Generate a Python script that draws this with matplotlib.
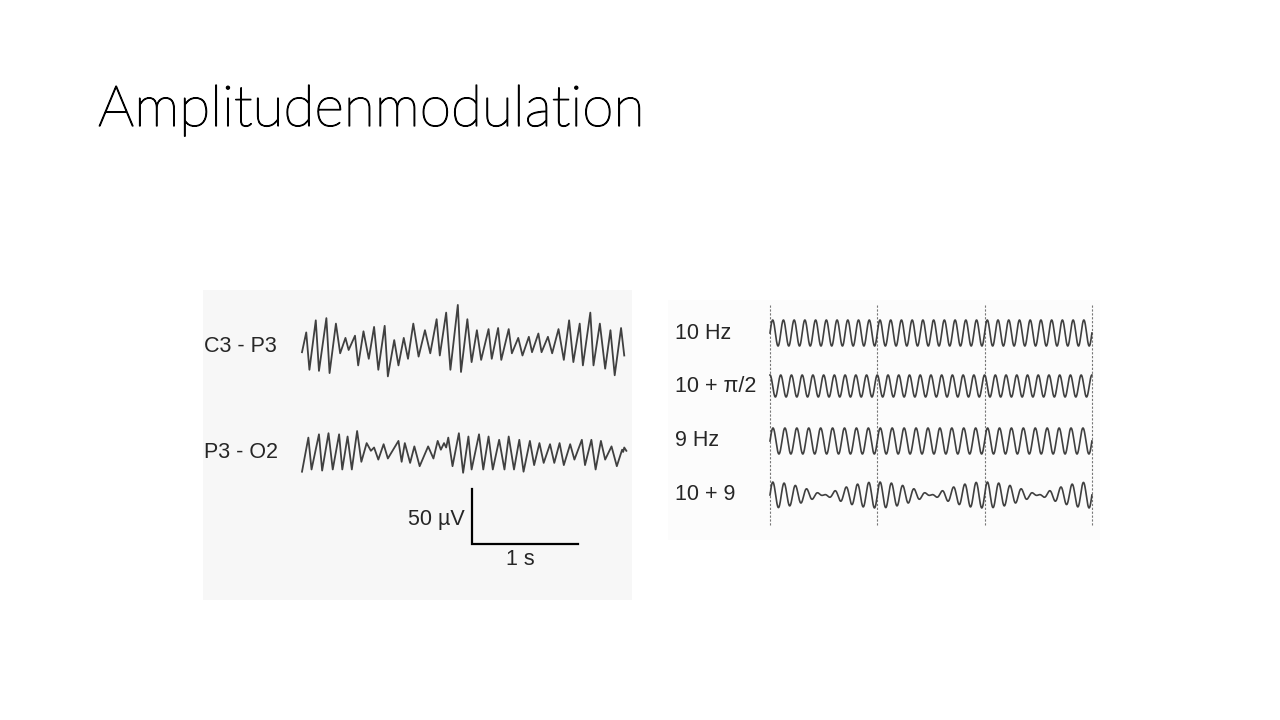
import numpy as np
import matplotlib
matplotlib.use("Agg")
import matplotlib.pyplot as plt
import matplotlib.patheffects as pe

c3p3_t = [0.00, 0.04, 0.07, 0.13, 0.16, 0.23, 0.26, 0.32, 0.36, 0.41,
          0.44, 0.50, 0.53, 0.58, 0.63, 0.68, 0.72, 0.78, 0.81, 0.87,
          0.91, 0.96, 1.00, 1.05, 1.10, 1.16, 1.21, 1.27, 1.30, 1.36,
          1.40, 1.47, 1.50, 1.56, 1.60, 1.65, 1.69, 1.76, 1.79, 1.85,
          1.88, 1.95, 1.98, 2.04, 2.08, 2.14, 2.17, 2.23, 2.26, 2.32,
          2.36, 2.42, 2.47, 2.52, 2.56, 2.62, 2.65, 2.72, 2.75, 2.81,
          2.86, 2.91, 2.95, 3.01, 3.04]
c3p3_uv = [-5, 13, -21, 24, -22, 26, -24, 21, -6, 8,
           -3, 10, -17, 14, -11, 18, -21, 19, -27, 6,
           -17, 8, -11, 21, -9, 15, -6, 25, -8, 31,
           -21, 38, -23, 25, -14, 15, -12, 16, -11, 17,
           -12, 16, -6, 8, -8, 9, -5, 12, -5, 9,
           -6, 16, -12, 24, -14, 21, -17, 31, -17, 21,
           -20, 15, -26, 17, -8]

p3o2_t = [0.00, 0.06, 0.09, 0.16, 0.19, 0.25, 0.29, 0.35, 0.38, 0.43,
          0.47, 0.52, 0.56, 0.61, 0.65, 0.68, 0.72, 0.77, 0.81, 0.91,
          0.94, 0.97, 1.02, 1.06, 1.11, 1.19, 1.24, 1.28, 1.31, 1.34,
          1.36, 1.38, 1.42, 1.48, 1.52, 1.57, 1.60, 1.67, 1.71, 1.76,
          1.80, 1.86, 1.91, 1.95, 2.00, 2.05, 2.09, 2.15, 2.19, 2.24,
          2.28, 2.34, 2.38, 2.43, 2.47, 2.53, 2.57, 2.64, 2.67, 2.73,
          2.77, 2.82, 2.86, 2.92, 2.97, 3.02, 3.03, 3.04, 3.06]
p3o2_uv = [-17, 14, -15, 17, -16, 18, -15, 17, -15, 15,
           -15, 20, -8, 9, 2, 5, -6, 8, -5, 11,
           -8, 9, -9, 6, -12, 6, -5, 11, 3, 9,
           5, 14, -12, 18, -18, 15, -15, 17, -15, 15,
           -15, 12, -15, 15, -15, 12, -17, 11, -11, 9,
           -9, 8, -9, 9, -11, 8, -6, 12, -11, 12,
           -15, 11, -6, 6, -12, 3, 1, 5, 2]

eeg_labels = ["C3 - P3", "P3 - O2"]

# Sinus-Beispiele: Frequenzen (Hz) und Phasen der Komponenten
sine_labels = ["10 Hz", "10 + \u03c0/2", "9 Hz", "10 + 9"]
sine_freqs = [[10], [10], [9], [10, 9]]
sine_phases = [[0], [np.pi / 2], [0], [0, 0]]
sine_amp = [13, 11, 13, 13]
marker_times = [0, 1, 2, 3]

lab_font = ["Liberation Sans", "DejaVu Sans"]
lab_size = 15.5
trace_col = "#404040"
text_col = "#262626"

fig = plt.figure(figsize=(12.8, 7.2), dpi=100)
fig.patch.set_facecolor("white")

fig.text(98 / 1280, 1 - 126 / 720, "Amplitudenmodulation", fontsize=41,
         family=["Lato", "DejaVu Sans"], fontweight="light", color="black",
         ha="left", va="baseline",
         path_effects=[pe.withStroke(linewidth=0.9, foreground="black")])

# ---- linkes Feld: EEG ----
W, H = 1280, 720
ax1 = fig.add_axes([203 / W, 1 - 600 / H, (632 - 203) / W, (600 - 290) / H])
ax1.set_facecolor("#f7f7f7")
px_s = 106.0
px_uv = 1.1
ax1.set_xlim(-(302 - 203) / px_s, (632 - 302) / px_s)
ax1.set_ylim(0, 310 / px_uv)
for sp in ax1.spines.values():
    sp.set_visible(False)
ax1.set_xticks([])
ax1.set_yticks([])

off1 = (600 - 346.7) / px_uv
off2 = (600 - 453) / px_uv
ax1.plot(c3p3_t, np.array(c3p3_uv) + off1, color=trace_col, lw=1.3,
         solid_joinstyle="round")
ax1.plot(p3o2_t, np.array(p3o2_uv) + off2, color=trace_col, lw=1.3,
         solid_joinstyle="round")
ax1.text((204 - 302) / px_s, off1, eeg_labels[0], family=lab_font,
         fontsize=lab_size, color=text_col, ha="left", va="center")
ax1.text((204 - 302) / px_s, off2, eeg_labels[1], family=lab_font,
         fontsize=lab_size, color=text_col, ha="left", va="center")

# Massstab 50 uV / 1 s
x0 = (472 - 302) / px_s
y0 = (600 - 544) / px_uv
ax1.plot([x0, x0, x0 + 1.0], [y0 + 50, y0, y0], color="black", lw=1.6,
         solid_joinstyle="miter")
ax1.text(x0 - 0.07, y0 + 22, "50 \u00b5V", family=lab_font, fontsize=lab_size,
         color=text_col, ha="right", va="center")
ax1.text(x0 + 0.46, y0 - 14, "1 s", family=lab_font, fontsize=lab_size,
         color=text_col, ha="center", va="center")

# ---- rechtes Feld: Sinus ----
ax2 = fig.add_axes([668 / W, 1 - 540 / H, (1100 - 668) / W, (540 - 300) / H])
ax2.set_facecolor("#fcfcfc")
px_s2 = 107.3
ax2.set_xlim(-(770 - 668) / px_s2, (1100 - 770) / px_s2)
ax2.set_ylim(0, 240)
for sp in ax2.spines.values():
    sp.set_visible(False)
ax2.set_xticks([])
ax2.set_yticks([])

for m in marker_times:
    ax2.plot([m, m], [540 - 525, 540 - 305], color="#777777", lw=0.8,
             ls=(0, (2, 1.5)))

centers = [540 - 333, 540 - 386, 540 - 441, 540 - 495]
t = np.linspace(0, 3, 3000)
for lab, fr, ph, a, c in zip(sine_labels, sine_freqs, sine_phases,
                             sine_amp, centers):
    y = np.zeros_like(t)
    for f, p in zip(fr, ph):
        y += np.sin(2 * np.pi * f * t + p)
    y = y / len(fr)
    ax2.plot(t, c + a * y, color=trace_col, lw=1.2)
    ax2.text((675 - 770) / px_s2, c, lab, family=lab_font, fontsize=lab_size,
             color=text_col, ha="left", va="center")

plt.savefig("out.png", dpi=100)
